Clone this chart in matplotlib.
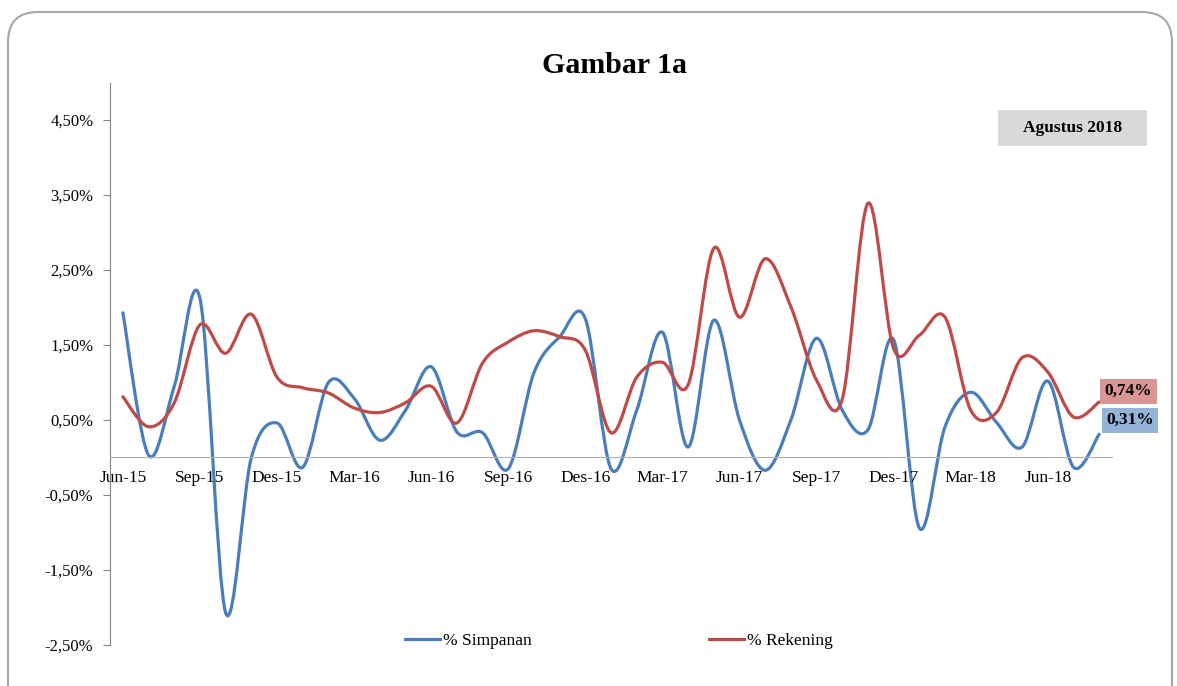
import matplotlib
matplotlib.use('Agg')
import matplotlib.pyplot as plt
from matplotlib.path import Path
from matplotlib.patches import PathPatch, FancyBboxPatch, Rectangle
from matplotlib.lines import Line2D

FONT = 'Liberation Serif'
plt.rcParams['font.family'] = [FONT, 'DejaVu Serif']

# monthly categories Jun-15 .. Aug-18
bulan = ['Jan', 'Feb', 'Mar', 'Apr', 'Mei', 'Jun', 'Jul', 'Agu', 'Sep', 'Okt', 'Nov', 'Des']
months = [bulan[(5 + i) % 12] + '-' + str(15 + (5 + i) // 12) for i in range(39)]

# values in percent
simpanan = [1.93, 0.03, 0.95, 2.12, -2.07, 0.00, 0.46, -0.13, 1.00, 0.79,
            0.23, 0.63, 1.21, 0.34, 0.33, -0.15, 1.13, 1.61, 1.85, -0.15,
            0.63, 1.67, 0.14, 1.83, 0.50, -0.17, 0.50, 1.59, 0.63, 0.37,
            1.57, -0.94, 0.41, 0.87, 0.47, 0.14, 1.02, -0.13, 0.31]
rekening = [0.81, 0.41, 0.73, 1.77, 1.39, 1.91, 1.07, 0.93, 0.86, 0.66,
            0.60, 0.73, 0.95, 0.46, 1.26, 1.54, 1.69, 1.61, 1.43, 0.33,
            1.07, 1.27, 0.97, 2.79, 1.87, 2.65, 2.01, 1.03, 0.78, 3.39,
            1.45, 1.63, 1.87, 0.63, 0.60, 1.33, 1.14, 0.54, 0.74]

yticks = [-2.5, -1.5, -0.5, 0.5, 1.5, 2.5, 3.5, 4.5]

BLUE = '#4a7ebb'
RED = '#be4b48'
GRAY = '#868686'


def smooth_path(y):
    # Excel-style smoothed line: cubic bezier through every point
    n = len(y)
    verts = [(0, y[0])]
    codes = [Path.MOVETO]
    for i in range(n - 1):
        a = max(i - 1, 0)
        b = min(i + 2, n - 1)
        c1 = (i + (i + 1 - a) / 6, y[i] + (y[i + 1] - y[a]) / 6)
        c2 = (i + 1 - (b - i) / 6, y[i + 1] - (y[b] - y[i]) / 6)
        verts += [c1, c2, (i + 1, y[i + 1])]
        codes += [Path.CURVE4] * 3
    return Path(verts, codes)


fig = plt.figure(figsize=(11.77, 6.86), dpi=100)
fig.patches.append(FancyBboxPatch((0.08, -0.4), 11.64, 7.14,
                                  boxstyle='round,pad=0,rounding_size=0.3',
                                  transform=fig.dpi_scale_trans,
                                  fc='none', ec='#a6a6a6', lw=1.5, zorder=-1))

ax = fig.add_axes([0.0935, 0.0598, 0.8513, 0.8199])
ax.set_facecolor('none')

for s in ['top', 'right']:
    ax.spines[s].set_visible(False)
ax.spines['left'].set_color(GRAY)
ax.spines['bottom'].set_color('#b0b0b0')
ax.spines['bottom'].set_position(('data', 0))

for vals, col in [(simpanan, BLUE), (rekening, RED)]:
    ax.add_patch(PathPatch(smooth_path(vals), fc='none', ec=col, lw=2.3,
                           capstyle='round', joinstyle='round'))

ax.set_xlim(-0.5, len(months) - 0.5)
ax.set_ylim(-2.5, 5.0)

ax.set_yticks(yticks)
ax.set_yticklabels([('%.2f%%' % v).replace('.', ',') for v in yticks], fontsize=12)
ax.tick_params(axis='y', length=5, color=GRAY, pad=7)

ax.set_xticks(range(0, len(months), 3))
ax.set_xticklabels(months[::3], fontsize=12.5)
ax.tick_params(axis='x', length=0, pad=9)

# data labels at the last point
ax.annotate('0,74%', (len(months) - 1, rekening[-1]), xytext=(4, 2),
            textcoords='offset points', ha='left', va='bottom',
            fontsize=12.5, fontweight='bold', annotation_clip=False,
            bbox=dict(boxstyle='square,pad=0.25', fc='#da9694', ec='none'))
ax.annotate('0,31%', (len(months) - 1, simpanan[-1]), xytext=(5, 10),
            textcoords='offset points', ha='left', va='center',
            fontsize=12.5, fontweight='bold', annotation_clip=False,
            bbox=dict(boxstyle='square,pad=0.25', fc='#95b3d7', ec='none'))

fig.text(0.5225, 0.905, 'Gambar 1a', ha='center', va='center',
         fontsize=21.5, fontweight='bold')
fig.patches.append(Rectangle((0.8479, 0.7872), 0.1266, 0.0525,
                             transform=fig.transFigure, fc='#d9d9d9', ec='none'))
fig.text(0.9112, 0.8135, 'Agustus 2018', ha='center', va='center',
         fontsize=12.5, fontweight='bold')

handles = [Line2D([], [], color=BLUE, lw=2.3), Line2D([], [], color=RED, lw=2.3)]
fig.legend(handles, ['% Simpanan', '% Rekening'], loc='center',
           bbox_to_anchor=(0.526, 0.065), ncol=2, frameon=False,
           prop={'size': 12.5}, handlelength=2.0,
           handletextpad=0.2, columnspacing=10.2)

fig.savefig('out.png', dpi=100)
